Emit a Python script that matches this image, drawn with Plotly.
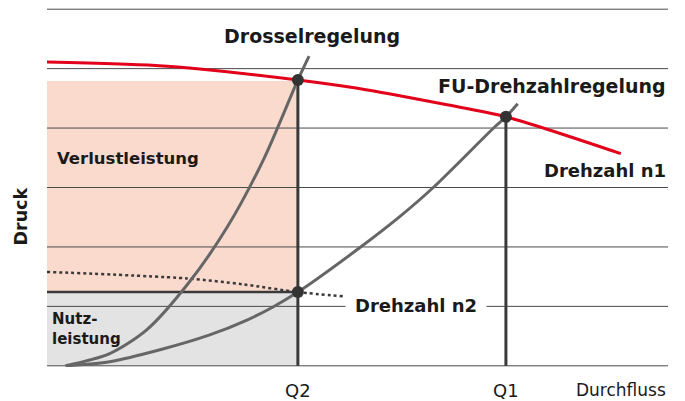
import plotly.graph_objects as go

# ---- data (flow 0..10, pressure 0..6) ----
n1_flow = [0.0, 1.8, 2.5, 4.04, 5.0, 6.4, 7.39, 9.24]
n1_head = [5.11, 5.05, 4.99, 4.81, 4.67, 4.40, 4.19, 3.57]

drossel_flow = [0.3, 1.0, 1.6, 2.27, 2.9, 3.5, 4.04, 4.22]
drossel_head = [0.0, 0.2, 0.6, 1.38, 2.33, 3.5, 4.81, 5.21]

fu_flow = [0.3, 1.01, 1.82, 2.62, 3.22, 3.64, 4.04, 5.04, 5.68, 6.22, 7.20, 7.39, 7.58]
fu_head = [0.0, 0.07, 0.27, 0.52, 0.77, 0.99, 1.24, 1.99, 2.51, 3.0, 4.01, 4.19, 4.41]

n2_flow = [0.0, 2.25, 3.16, 4.04, 4.77]
n2_head = [1.58, 1.47, 1.37, 1.24, 1.17]

Q2 = 4.04
Q1 = 7.39
H_Q2_n1 = 4.81
H_Q2_n2 = 1.24
H_Q1 = 4.19
H_loss_top = 4.79

grid_levels = [0, 1, 2, 3, 4, 5, 6]
x_max = 10

fig = go.Figure()

# shaded areas
fig.add_shape(type="rect", xref="x", yref="y", x0=0, x1=Q2, y0=H_Q2_n2, y1=H_loss_top,
              fillcolor="#FADACD", line_width=0, layer="below")
fig.add_shape(type="rect", xref="x", yref="y", x0=0, x1=Q2, y0=0, y1=H_Q2_n2,
              fillcolor="#E3E3E3", line_width=0, layer="below")
# grid lines
for g in grid_levels:
    fig.add_shape(type="line", xref="x", yref="y", x0=0, x1=x_max, y0=g, y1=g,
                  line=dict(color="#4a4a4a", width=1), layer="below")

dark = "#3a3a3a"
fig.add_trace(go.Scatter(x=[0, Q2], y=[H_Q2_n2, H_Q2_n2], mode="lines",
                         line=dict(color=dark, width=2.5), hoverinfo="skip"))
fig.add_trace(go.Scatter(x=[Q2, Q2], y=[0, H_Q2_n1], mode="lines",
                         line=dict(color=dark, width=3), hoverinfo="skip"))
fig.add_trace(go.Scatter(x=[Q1, Q1], y=[0, H_Q1], mode="lines",
                         line=dict(color=dark, width=3), hoverinfo="skip"))

# curves
fig.add_trace(go.Scatter(x=n2_flow, y=n2_head, mode="lines",
                         line=dict(color=dark, width=2.5, dash="dot", shape="spline", smoothing=0.8)))
fig.add_trace(go.Scatter(x=drossel_flow, y=drossel_head, mode="lines",
                         line=dict(color="#666666", width=3, shape="spline", smoothing=0.8)))
fig.add_trace(go.Scatter(x=fu_flow, y=fu_head, mode="lines",
                         line=dict(color="#666666", width=3, shape="spline", smoothing=0.8)))
fig.add_trace(go.Scatter(x=n1_flow, y=n1_head, mode="lines",
                         line=dict(color="#E2001A", width=3, shape="spline", smoothing=0.8)))

# operating points
fig.add_trace(go.Scatter(x=[Q2, Q2, Q1], y=[H_Q2_n1, H_Q2_n2, H_Q1], mode="markers",
                         marker=dict(color="#333333", size=12)))

ink = "#1a1a1a"
big = dict(family="DejaVu Sans", size=19, color=ink)
bold = dict(family="DejaVu Sans", size=18, color=ink)

ann = [
    dict(x=4.27, y=5.55, text="<b>Drosselregelung</b>", xanchor="center", font=big),
    dict(x=10, y=4.71, text="<b>FU-Drehzahlregelung</b>", xanchor="right", font=big),
    dict(x=10, y=3.28, text="<b>Drehzahl n1</b>", xanchor="right", font=bold),
    dict(x=0.13, y=3.49, text="<b>Verlustleistung</b>", xanchor="left",
         font=dict(family="DejaVu Sans", size=16.5, color=ink)),
    dict(x=0.05, y=0.62, text="<b>Nutz-</b><br><b>leistung</b>", xanchor="left",
         align="left", font=dict(family="DejaVu Sans", size=15, color=ink)),
    dict(x=5.94, y=1.02, text="<b>Drehzahl n2</b>", xanchor="center", font=bold,
         bgcolor="white", width=136, borderpad=2),
]
for a in ann:
    a.update(xref="x", yref="y", showarrow=False, yanchor="middle")
    fig.add_annotation(**a)

axis_font = dict(family="DejaVu Sans", size=18, color=ink)
fig.add_annotation(x=Q2, y=0, xref="x", yref="paper", yshift=-23, text="Q2",
                   showarrow=False, font=axis_font, xanchor="center", yanchor="middle")
fig.add_annotation(x=Q1, y=0, xref="x", yref="paper", yshift=-23, text="Q1",
                   showarrow=False, font=axis_font, xanchor="center", yanchor="middle")
fig.add_annotation(x=1, y=0, xref="paper", yref="paper", yshift=-23, text="Durchfluss",
                   showarrow=False, font=dict(family="DejaVu Sans", size=17, color=ink),
                   xanchor="right", yanchor="middle")
fig.add_annotation(x=-0.042, y=0.419, xref="paper", yref="paper", text="<b>Druck</b>",
                   textangle=-90, showarrow=False, xanchor="center", yanchor="middle",
                   font=dict(family="DejaVu Sans", size=17.5, color=ink))

# page body has an 8px margin: compensate in figure size/margins
fig.update_layout(
    width=677, height=393,
    margin=dict(l=39, r=17, t=0, b=34),
    paper_bgcolor="white", plot_bgcolor="white",
    showlegend=False,
    xaxis=dict(range=[0, x_max], showgrid=False, zeroline=False, showticklabels=False,
               showline=False, fixedrange=True),
    yaxis=dict(range=[-0.02, 6.02], showgrid=False, zeroline=False, showticklabels=False,
               showline=False, fixedrange=True),
)

fig.write_html("out.html")
